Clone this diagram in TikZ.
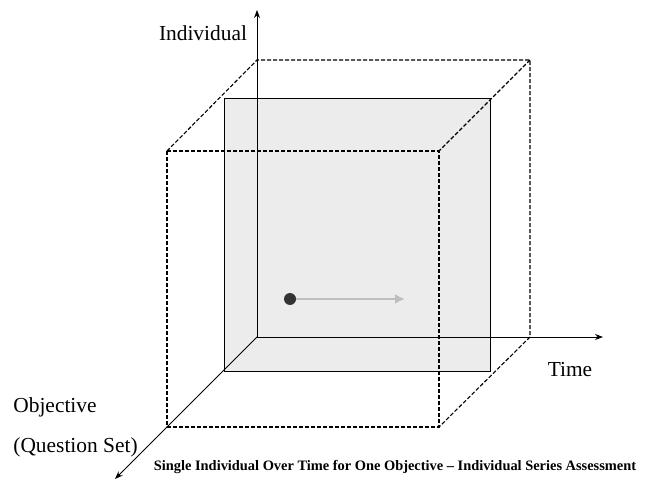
\documentclass[tikz,border=0pt]{standalone}
\usepackage{fontspec}
\setmainfont{Liberation Serif}
\usetikzlibrary{arrows.meta}
\definecolor{slicegray}{RGB}{236,236,236}
\definecolor{pathgray}{RGB}{190,190,190}

\begin{document}
\begin{tikzpicture}[x=0.5pt, y=-0.5pt, >={Stealth[length=4pt,width=3pt]},
    axis/.style={->, line width=0.5pt},
    hidden/.style={line width=0.55pt, dash pattern=on 2pt off 1pt},
    axislabel/.style={font=\fontsize{10.7}{12}\selectfont, inner sep=0pt}]
  \useasboundingbox (0,0) rectangle (648,481);
  \coordinate (origin) at (257,337);
  \coordinate (yEnd) at (257,10);
  \coordinate (xEnd) at (603,337);
  \coordinate (zEnd) at (115,479);
  \coordinate (backTL) at (257,60);
  \coordinate (backTR) at (530,60);
  \coordinate (backBR) at (530,337);
  \coordinate (frontTL) at (167,151);
  \coordinate (frontTR) at (439,151);
  \coordinate (frontBR) at (439,427);
  \coordinate (frontBL) at (167,427);
  \coordinate (sliceTL) at (224,99);
  \coordinate (sliceBR) at (490,371);
  \draw[fill=slicegray, line width=0.5pt] (sliceTL) rectangle (sliceBR);
  \draw[hidden] (frontTL) rectangle (frontBR);
  \draw[hidden] (frontTL) -- (backTL) -- (backTR) -- (backBR) -- (frontBR);
  \draw[hidden] (backTR) -- (frontTR);
  \draw[axis] (origin) -- (yEnd);
  \draw[axis] (origin) -- (xEnd);
  \draw[axis] (origin) -- (zEnd);
  \node[circle, fill=black!80, minimum size=6pt, inner sep=0pt] (start) at (290,299) {};
  \coordinate (stop) at (405,299);
  \draw[->, pathgray, line width=1pt, >={Latex[length=5pt,width=5pt]}] (start) -- (stop);
  \node[axislabel] (individual) at (203,33) {Individual};
  \node[axislabel] (time) at (570,370) {Time};
  \node[axislabel, anchor=west] (objective) at (13,407) {Objective};
  \node[axislabel, anchor=west] (questions) at (13,447) {(Question Set)};
  \node[font=\bfseries\fontsize{7.2}{8}\selectfont, inner sep=0pt] (caption) at (395,467)
    {Single Individual Over Time for One Objective -- Individual Series Assessment};
\end{tikzpicture}
\end{document}
